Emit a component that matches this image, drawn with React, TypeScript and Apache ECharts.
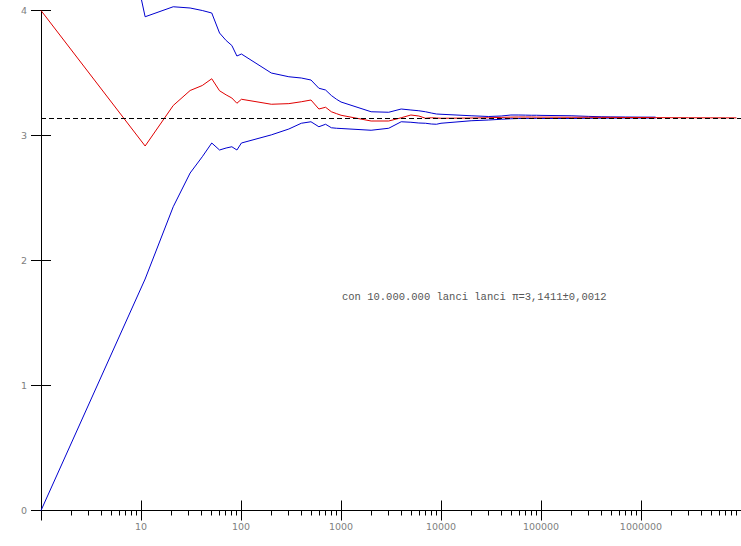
import React, { useEffect, useRef } from 'react';
import * as echarts from 'echarts';

// number of throws (x, log scale)
const N_BAND = [1, 11, 21, 31, 41, 51, 61, 71, 81, 91, 101, 201, 301, 401, 501, 601, 701, 801, 901, 1001, 2001, 3001, 4001, 5001, 6001, 7001, 8001, 9001, 10001, 20001, 30001, 40001, 50001, 60001, 70001, 80001, 90001, 100001, 200001, 300001, 400001, 500001, 700001, 1000001, 1400001];
const N_TAIL = [2000001, 3000001, 5000001, 7000001, 9000001];

// estimate of pi (red)
const PI_EST = [4.0, 2.916, 3.24, 3.36, 3.40, 3.454, 3.358, 3.325, 3.30, 3.258, 3.29, 3.25, 3.255, 3.27, 3.284, 3.212, 3.226, 3.19, 3.175, 3.162, 3.116, 3.116, 3.142, 3.164, 3.156, 3.138, 3.142, 3.140, 3.138, 3.140, 3.142, 3.145, 3.147, 3.148, 3.148, 3.148, 3.147, 3.147, 3.146, 3.146, 3.145, 3.145, 3.144, 3.144, 3.143];
const PI_EST_TAIL = [3.1425, 3.142, 3.1415, 3.1412, 3.1411];

// upper / lower band (blue)
const UPPER = [7.8, 3.95, 4.03, 4.02, 4.0, 3.98, 3.82, 3.76, 3.72, 3.636, 3.652, 3.50, 3.47, 3.46, 3.444, 3.378, 3.364, 3.32, 3.29, 3.268, 3.19, 3.186, 3.212, 3.204, 3.198, 3.19, 3.18, 3.172, 3.17, 3.158, 3.152, 3.156, 3.164, 3.164, 3.163, 3.162, 3.162, 3.161, 3.158, 3.153, 3.15, 3.149, 3.148, 3.147, 3.147];
const LOWER = [0, 1.852, 2.43, 2.70, 2.83, 2.94, 2.884, 2.90, 2.91, 2.884, 2.94, 3.005, 3.052, 3.098, 3.11, 3.07, 3.09, 3.062, 3.058, 3.056, 3.042, 3.058, 3.11, 3.106, 3.10, 3.098, 3.092, 3.09, 3.098, 3.118, 3.124, 3.13, 3.134, 3.136, 3.137, 3.137, 3.137, 3.136, 3.136, 3.138, 3.139, 3.139, 3.14, 3.14, 3.14];

const PI_REF = Math.PI;

const X_MAJOR = [1, 10, 100, 1000, 10000, 100000, 1000000, 10000000];
const X_LABELS = [10, 100, 1000, 10000, 100000, 1000000];
const X_MINOR: number[] = [];
for (let d = 1; d < 1e7; d *= 10) for (let k = 2; k <= 9; k++) X_MINOR.push(k * d);
const Y_TICKS = [0, 1, 2, 3, 4];

const NOTE = 'con 10.000.000 lanci lanci π=3,1411±0,0012';

export default function App() {
  const ref = useRef<HTMLDivElement>(null);
  useEffect(() => {
    if (!ref.current) return;
    const chart = echarts.init(ref.current, null, { renderer: 'svg' });
    const zip = (xs: number[], ys: number[]) => xs.map((x, i) => [x, ys[i]]);
    const baseX = {
      type: 'log' as const,
      logBase: 10,
      min: 1,
      max: 1e7,
      position: 'bottom' as const,
      splitLine: { show: false },
    };
    const baseY = {
      type: 'value' as const,
      min: 0,
      max: 4,
      interval: 1,
      position: 'left' as const,
      splitLine: { show: false },
    };
    chart.setOption({
      animation: false,
      backgroundColor: '#ffffff',
      grid: { left: 41, right: 0, top: 10.5, bottom: 35.5, containLabel: false },
      xAxis: [
        {
          ...baseX,
          axisLine: { show: true, onZero: false, lineStyle: { color: '#000', width: 1 } },
          axisTick: { show: true, inside: false, length: 10, customValues: X_MAJOR, lineStyle: { color: '#000', width: 1 } },
          axisLabel: {
            show: true,
            customValues: X_LABELS,
            margin: 11,
            color: '#808080',
            fontSize: 9.5,
            fontFamily: 'DejaVu Sans',
            formatter: (v: number) => String(Math.round(v)),
          },
        },
        {
          ...baseX,
          axisLine: { show: false, onZero: false },
          axisTick: { show: true, inside: true, length: 10, customValues: X_MAJOR, lineStyle: { color: '#000', width: 1 } },
          axisLabel: { show: false },
        },
        {
          ...baseX,
          axisLine: { show: false, onZero: false },
          axisTick: { show: true, inside: false, length: 5, customValues: X_MINOR, lineStyle: { color: '#000', width: 1 } },
          axisLabel: { show: false },
        },
      ],
      yAxis: [
        {
          ...baseY,
          axisLine: { show: true, onZero: false, lineStyle: { color: '#000', width: 1 } },
          axisTick: { show: true, inside: false, length: 10, customValues: Y_TICKS, lineStyle: { color: '#000', width: 1 } },
          axisLabel: {
            show: true,
            customValues: Y_TICKS,
            margin: 14,
            color: '#808080',
            fontSize: 9.5,
            fontFamily: 'DejaVu Sans',
          },
        },
        {
          ...baseY,
          axisLine: { show: false, onZero: false },
          axisTick: { show: true, inside: true, length: 10, customValues: Y_TICKS, lineStyle: { color: '#000', width: 1 } },
          axisLabel: { show: false },
        },
      ],
      series: [
        {
          type: 'line',
          name: 'upper',
          data: zip(N_BAND, UPPER),
          showSymbol: false,
          clip: false,
          lineStyle: { color: '#0000d0', width: 1 },
          z: 2,
        },
        {
          type: 'line',
          name: 'lower',
          data: zip(N_BAND, LOWER),
          showSymbol: false,
          clip: false,
          lineStyle: { color: '#0000d0', width: 1 },
          z: 2,
        },
        {
          type: 'line',
          name: 'pi',
          data: zip(N_BAND.concat(N_TAIL), PI_EST.concat(PI_EST_TAIL)),
          showSymbol: false,
          clip: false,
          lineStyle: { color: '#e00000', width: 1 },
          z: 3,
          markLine: {
            silent: true,
            symbol: 'none',
            label: { show: false },
            lineStyle: { color: '#000', width: 1, type: [5, 3] },
            data: [{ yAxis: PI_REF }],
          },
        },
      ],
      graphic: [
        {
          type: 'text',
          left: 342,
          top: 291,
          style: {
            text: NOTE,
            font: '10.5px "Liberation Mono"',
            fill: '#555555',
          },
        },
      ],
    });
    return () => chart.dispose();
  }, []);
  return (
    <div
      ref={ref}
      style={{ position: 'fixed', left: 0, top: 0, width: 741, height: 546, background: '#fff' }}
    />
  );
}
